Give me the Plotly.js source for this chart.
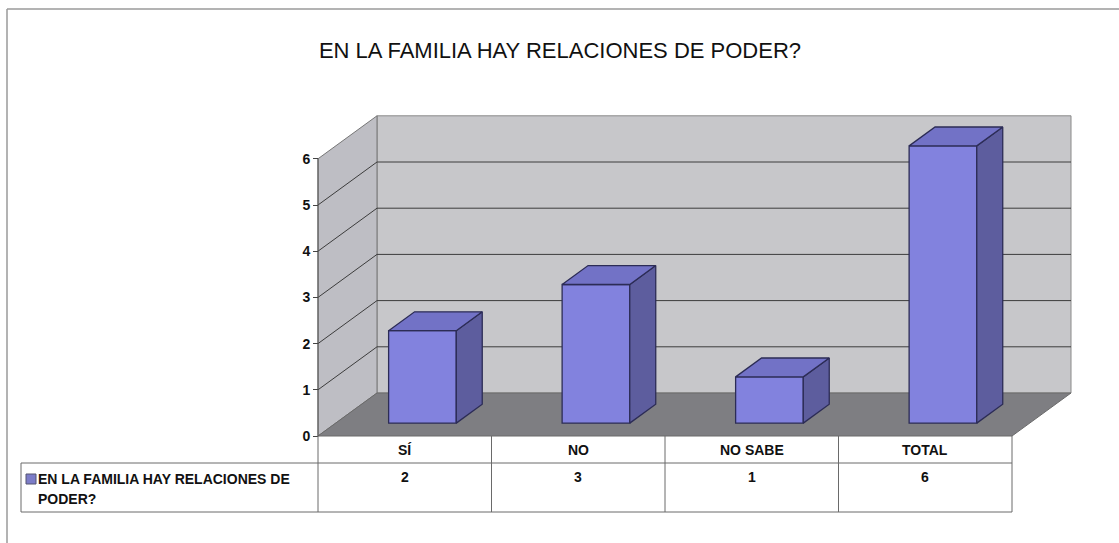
<!DOCTYPE html>
<html>
<head>
<meta charset="utf-8">
<script src="https://cdn.plot.ly/plotly-3.0.1.min.js"></script>
<style>
  html, body { margin: 0; padding: 0; background: #ffffff; }
  #chart { width: 1119px; height: 543px; }
</style>
</head>
<body>
<div id="chart"></div>
<script>
// ---------- data ----------
const chartTitle = 'EN LA FAMILIA HAY RELACIONES DE PODER?';
const seriesName = 'EN LA FAMILIA HAY RELACIONES DE PODER?';
const categories = ['SÍ', 'NO', 'NO SABE', 'TOTAL'];
const values = [2, 3, 1, 6];
const yTickVals = [0, 1, 2, 3, 4, 5, 6];
const yTickText = ['0', '1', '2', '3', '4', '5', '6'];

// ---------- layout geometry (pixels) ----------
const W = 1119, H = 543;
const PX0 = 318;      // pixel x of the plot's front-left edge (category -0.5)
const CW = 173.5;     // pixels per category
const PY0 = 436;      // pixel y of value 0 on the front plane
const UH = 46.2;      // pixels per value unit
const DEPTH_PX_X = 59, DEPTH_PX_Y = 43;
const DX = DEPTH_PX_X / CW;   // depth offset in category units
const DY = DEPTH_PX_Y / UH;   // depth offset in value units
const VMAX = 6;
const BAR_W = 0.39, D_FRONT = 0.30, D_BACK = 0.74;

const xr = [-0.5 - PX0 / CW, -0.5 + (W - PX0) / CW];
const yr = [-(H - PY0) / UH, PY0 / UH];
const fx = px => px / W;          // pixel -> paper x
const fy = py => 1 - py / H;      // pixel -> paper y
const P = (x, v, d) => [x + d * DX, v + d * DY];

const n = categories.length;
const XL = -0.5, XR = n - 0.5;

function pathOf(pts) {
  return 'M' + pts.map(p => p[0] + ',' + p[1]).join(' L') + ' Z';
}

// ---------- walls, floor, gridlines ----------
const shapes = [];
const leftWall = [P(XL, 0, 0), P(XL, 0, 1), P(XL, VMAX, 1), P(XL, VMAX, 0)];
const backWall = [P(XL, 0, 1), P(XR, 0, 1), P(XR, VMAX, 1), P(XL, VMAX, 1)];
const floor = [P(XL, 0, 0), P(XR, 0, 0), P(XR, 0, 1), P(XL, 0, 1)];
shapes.push({type: 'path', xref: 'x', yref: 'y', layer: 'below', path: pathOf(backWall),
  fillcolor: '#c7c7ca', line: {color: '#8a8a8a', width: 1}});
shapes.push({type: 'path', xref: 'x', yref: 'y', layer: 'below', path: pathOf(leftWall),
  fillcolor: '#bebec4', line: {color: '#777777', width: 1}});
shapes.push({type: 'path', xref: 'x', yref: 'y', layer: 'below', path: pathOf(floor),
  fillcolor: '#7e7e82', line: {color: '#6a6a6a', width: 1}});
yTickVals.forEach(v => {
  if (v === 0 || v === VMAX) return;
  const a = P(XL, v, 0), b = P(XL, v, 1), c = P(XR, v, 1);
  shapes.push({type: 'path', xref: 'x', yref: 'y', layer: 'below',
    path: 'M' + a[0] + ',' + a[1] + ' L' + b[0] + ',' + b[1] + ' L' + c[0] + ',' + c[1],
    line: {color: '#3c3c3c', width: 1}});
});
// front-left edge (value axis line)
{
  const a = P(XL, 0, 0), b = P(XL, VMAX, 0);
  shapes.push({type: 'line', xref: 'x', yref: 'y', layer: 'below', x0: a[0], y0: a[1], x1: b[0], y1: b[1],
    line: {color: '#555555', width: 1}});
}

// ---------- data table ----------
const tblTop = 436, tblMid = 463, tblBot = 512, tblLeft = 21;
const colEdges = [];
for (let i = 0; i <= n; i++) colEdges.push(PX0 + i * CW);
const tLine = {color: '#6a6a6a', width: 1};
shapes.push({type: 'line', xref: 'paper', yref: 'paper', x0: fx(tblLeft), x1: fx(colEdges[n]), y0: fy(tblMid), y1: fy(tblMid), line: tLine});
shapes.push({type: 'line', xref: 'paper', yref: 'paper', x0: fx(tblLeft), x1: fx(colEdges[n]), y0: fy(tblBot), y1: fy(tblBot), line: tLine});
shapes.push({type: 'line', xref: 'paper', yref: 'paper', x0: fx(tblLeft), x1: fx(tblLeft), y0: fy(tblMid), y1: fy(tblBot), line: tLine});
colEdges.forEach(px => {
  shapes.push({type: 'line', xref: 'paper', yref: 'paper', x0: fx(px), x1: fx(px), y0: fy(tblTop), y1: fy(tblBot), line: tLine});
});
// legend key
shapes.push({type: 'rect', xref: 'paper', yref: 'paper', x0: fx(26), x1: fx(36), y0: fy(484), y1: fy(474),
  fillcolor: '#7c7cc8', line: {color: '#555570', width: 1}});
// outer frame
shapes.push({type: 'line', xref: 'paper', yref: 'paper', x0: fx(7), x1: 1, y0: fy(9), y1: fy(9), line: {color: '#9a9a9a', width: 1.5}});
shapes.push({type: 'line', xref: 'paper', yref: 'paper', x0: fx(7), x1: fx(7), y0: fy(9), y1: 0, line: {color: '#9a9a9a', width: 1.5}});

const annotations = [];
const tFont = {family: 'Arial, Liberation Sans, sans-serif', size: 14, color: '#111111'};
categories.forEach((c, i) => {
  const cx = (colEdges[i] + colEdges[i + 1]) / 2;
  annotations.push({xref: 'paper', yref: 'paper', x: fx(cx), y: fy(450), text: '<b>' + c + '</b>',
    showarrow: false, xanchor: 'center', yanchor: 'middle', font: tFont});
  annotations.push({xref: 'paper', yref: 'paper', x: fx(cx), y: fy(477), text: '<b>' + values[i] + '</b>',
    showarrow: false, xanchor: 'center', yanchor: 'middle', font: tFont});
});
annotations.push({xref: 'paper', yref: 'paper', x: fx(36), y: fy(479), xanchor: 'left', yanchor: 'middle',
  text: '<b>EN LA FAMILIA HAY RELACIONES DE</b>', showarrow: false, font: tFont});
annotations.push({xref: 'paper', yref: 'paper', x: fx(36), y: fy(499), xanchor: 'left', yanchor: 'middle',
  text: '<b>PODER?</b>', showarrow: false, font: tFont});

// ---------- bars ----------
const FRONT = '#8282de', TOP = '#7272c6', SIDE = '#5d5d9e', EDGE = '#2c2c56';
const traces = [];
traces.push({
  type: 'bar', name: seriesName,
  x: categories.map((c, i) => i + D_FRONT * DX),
  y: values,
  base: values.map(() => D_FRONT * DY),
  width: BAR_W,
  marker: {color: FRONT, line: {color: EDGE, width: 1.3}},
  hoverinfo: 'skip', showlegend: false
});
values.forEach((v, i) => {
  const l = i - BAR_W / 2, r = i + BAR_W / 2;
  const top = [P(l, v, D_FRONT), P(l, v, D_BACK), P(r, v, D_BACK), P(r, v, D_FRONT), P(l, v, D_FRONT)];
  const side = [P(r, v, D_FRONT), P(r, v, D_BACK), P(r, 0, D_BACK), P(r, 0, D_FRONT), P(r, v, D_FRONT)];
  [[side, SIDE], [top, TOP]].forEach(([pts, col]) => {
    traces.push({type: 'scatter', mode: 'lines', fill: 'toself', fillcolor: col,
      x: pts.map(p => p[0]), y: pts.map(p => p[1]),
      line: {color: EDGE, width: 1.3}, hoverinfo: 'skip', showlegend: false});
  });
});

const layout = {
  width: W, height: H,
  margin: {l: 0, r: 0, t: 0, b: 0},
  paper_bgcolor: '#ffffff', plot_bgcolor: 'rgba(0,0,0,0)',
  showlegend: false,
  title: {text: chartTitle, x: fx(560), xanchor: 'center', y: fy(50), yanchor: 'middle',
    font: {family: 'Arial, Liberation Sans, sans-serif', size: 22, color: '#111111'}},
  xaxis: {range: xr, visible: false, fixedrange: true},
  yaxis: {range: yr, anchor: 'free', position: fx(PX0), side: 'left',
    tickmode: 'array', tickvals: yTickVals, ticktext: yTickText,
    ticks: 'outside', ticklen: 5, tickcolor: '#444444', tickwidth: 1,
    showline: false, showgrid: false, zeroline: false, fixedrange: true,
    tickfont: {family: 'Arial, Liberation Sans, sans-serif', size: 14, color: '#111111', weight: 'bold'}},
  bargap: 0,
  shapes: shapes,
  annotations: annotations
};

Plotly.newPlot('chart', traces, layout, {displayModeBar: false, staticPlot: true});
</script>
</body>
</html>
